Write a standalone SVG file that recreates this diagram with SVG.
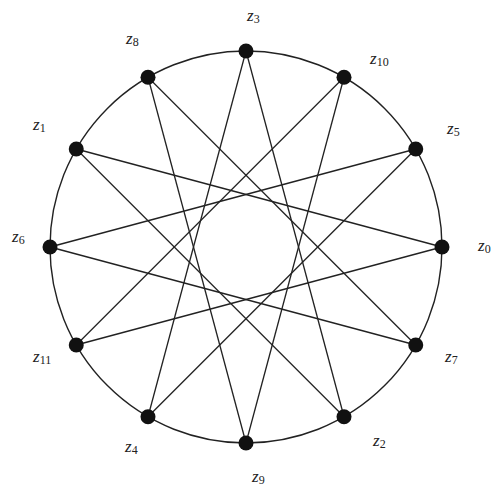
<svg xmlns="http://www.w3.org/2000/svg" width="496" height="492" viewBox="0 0 496 492">
<style>
.edge{stroke:#222;stroke-width:1.3;fill:none}
.ring{stroke:#222;stroke-width:1.4;fill:none}
.dot{fill:#111}
.lbl{font-family:"Liberation Serif",serif;font-style:italic;font-size:17px;fill:#222}
.sub{font-family:"Liberation Serif",serif;font-style:normal;font-size:12px}
</style>
<rect width="496" height="492" fill="#fff"/>
<g id="connectors">
<circle class="ring" cx="246" cy="247" r="196"/>
<line class="edge" x1="246" y1="51" x2="344" y2="416.74"/>
<line class="edge" x1="344" y1="77.26" x2="246" y2="443"/>
<line class="edge" x1="415.74" y1="149" x2="148" y2="416.74"/>
<line class="edge" x1="442" y1="247" x2="76.26" y2="345"/>
<line class="edge" x1="415.74" y1="345" x2="50" y2="247"/>
<line class="edge" x1="344" y1="416.74" x2="76.26" y2="149"/>
<line class="edge" x1="246" y1="443" x2="148" y2="77.26"/>
<line class="edge" x1="148" y1="416.74" x2="246" y2="51"/>
<line class="edge" x1="76.26" y1="345" x2="344" y2="77.26"/>
<line class="edge" x1="50" y1="247" x2="415.74" y2="149"/>
<line class="edge" x1="76.26" y1="149" x2="442" y2="247"/>
<line class="edge" x1="148" y1="77.26" x2="415.74" y2="345"/>
</g>
<g id="z3"><circle class="dot" cx="246" cy="51" r="7.5"/><text class="lbl" x="247" y="21">z<tspan class="sub" dy="2">3</tspan></text></g>
<g id="z10"><circle class="dot" cx="344" cy="77.26" r="7.5"/><text class="lbl" x="370" y="64">z<tspan class="sub" dy="2">10</tspan></text></g>
<g id="z5"><circle class="dot" cx="415.74" cy="149" r="7.5"/><text class="lbl" x="447" y="134">z<tspan class="sub" dy="2">5</tspan></text></g>
<g id="z0"><circle class="dot" cx="442" cy="247" r="7.5"/><text class="lbl" x="478" y="251">z<tspan class="sub" dy="2">0</tspan></text></g>
<g id="z7"><circle class="dot" cx="415.74" cy="345" r="7.5"/><text class="lbl" x="445" y="362">z<tspan class="sub" dy="2">7</tspan></text></g>
<g id="z2"><circle class="dot" cx="344" cy="416.74" r="7.5"/><text class="lbl" x="373" y="446">z<tspan class="sub" dy="2">2</tspan></text></g>
<g id="z9"><circle class="dot" cx="246" cy="443" r="7.5"/><text class="lbl" x="252" y="482">z<tspan class="sub" dy="2">9</tspan></text></g>
<g id="z4"><circle class="dot" cx="148" cy="416.74" r="7.5"/><text class="lbl" x="125" y="452">z<tspan class="sub" dy="2">4</tspan></text></g>
<g id="z11"><circle class="dot" cx="76.26" cy="345" r="7.5"/><text class="lbl" x="33" y="362">z<tspan class="sub" dy="2">11</tspan></text></g>
<g id="z6"><circle class="dot" cx="50" cy="247" r="7.5"/><text class="lbl" x="12" y="242">z<tspan class="sub" dy="2">6</tspan></text></g>
<g id="z1"><circle class="dot" cx="76.26" cy="149" r="7.5"/><text class="lbl" x="33" y="130">z<tspan class="sub" dy="2">1</tspan></text></g>
<g id="z8"><circle class="dot" cx="148" cy="77.26" r="7.5"/><text class="lbl" x="126" y="44">z<tspan class="sub" dy="2">8</tspan></text></g>
</svg>
